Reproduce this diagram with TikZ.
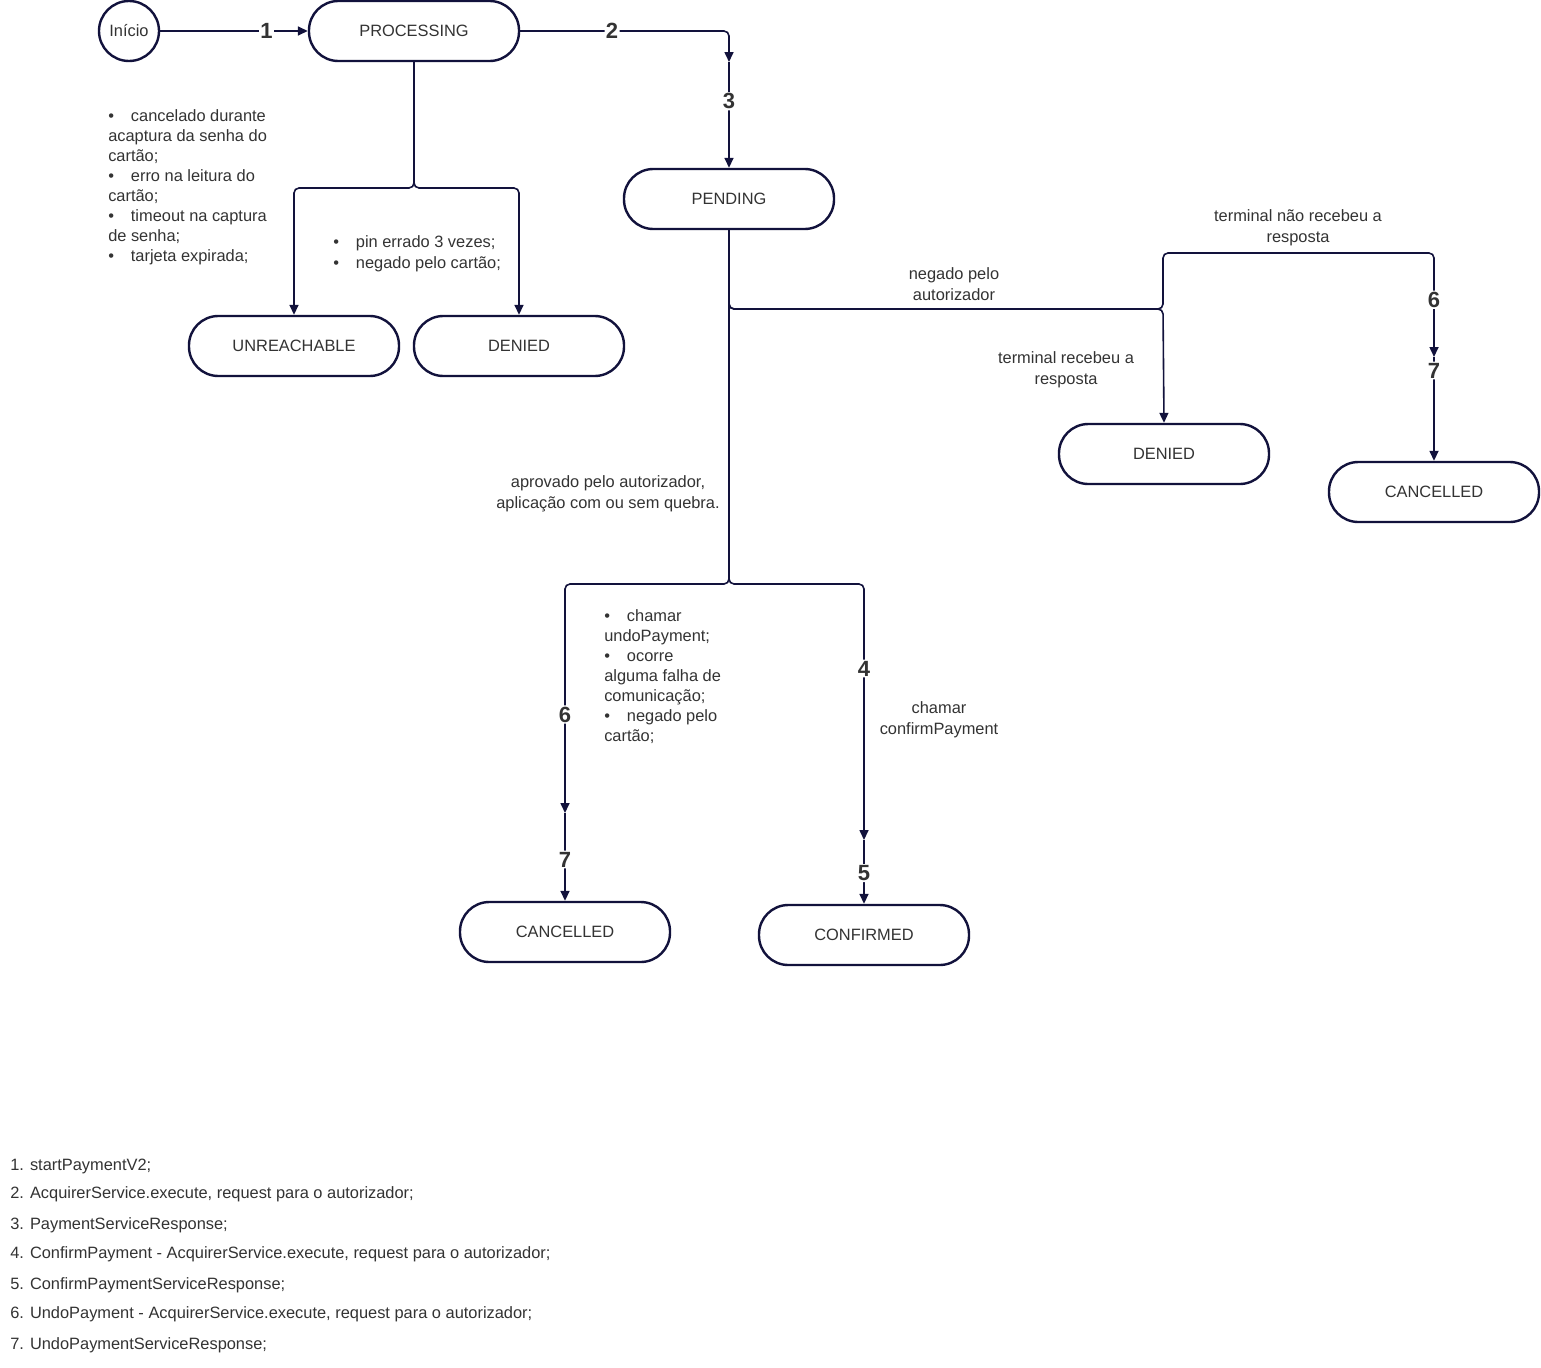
\documentclass[tikz,border=0pt]{standalone}
\usepackage{fontspec}
\setmainfont{Liberation Sans}
\usetikzlibrary{arrows.meta}
\definecolor{ln}{RGB}{18,18,60}
\definecolor{tx}{RGB}{51,51,51}
\newcommand\blt{\makebox[17pt][l]{\textbullet}}
\begin{document}
\begin{tikzpicture}[x=0.75pt,y=-0.75pt,
  state/.style={draw=ln, line width=1.8pt, rectangle, rounded corners=22pt,
    minimum width=157.5pt, minimum height=45pt, text=tx,
    font=\fontsize{12.3}{15}\selectfont, inner sep=0pt},
  conn/.style={draw=ln, line width=1.2pt, rounded corners=3.75pt,
    -{Triangle[length=7.5pt,width=6.75pt]}},
  num/.style={fill=white, text=tx, font=\fontsize{16.5}{18}\selectfont\bfseries, inner sep=1pt},
  lbl/.style={text=tx, font=\fontsize{12.3}{15.75}\selectfont, align=center, inner sep=0pt},
  lst/.style={text=tx, font=\fontsize{12.3}{15}\selectfont, align=left, inner sep=0pt, anchor=west},
  leg/.style={text=tx, font=\fontsize{12.3}{15}\selectfont, inner sep=0pt, anchor=west},
]
\useasboundingbox[fill=white] (0,0) rectangle (1541,1367);

% states
\node[circle, draw=ln, line width=1.8pt, minimum size=45pt, inner sep=0pt, text=tx,
  font=\fontsize{12.3}{15}\selectfont] (ini) at (129,31) {Início};
\node[state] (proc) at (414,31) {PROCESSING};
\node[state] (pend) at (729,199) {PENDING};
\node[state] (unr) at (294,346) {UNREACHABLE};
\node[state] (den1) at (519,346) {DENIED};
\node[state] (den2) at (1164,454) {DENIED};
\node[state] (canr) at (1434,492) {CANCELLED};
\node[state] (canl) at (565,932) {CANCELLED};
\node[state] (conf) at (864,935) {CONFIRMED};

% waypoints
\coordinate (w3) at (729,62);
\coordinate (w7r) at (1434,357);
\coordinate (w7l) at (565,813);
\coordinate (w5) at (864,840);
\coordinate (jp) at (414,188);
\coordinate (jq) at (729,309);
\coordinate (jr) at (1163,309);
\coordinate (jb) at (729,584);

% connectors
\draw[conn] (ini) -- node[num, pos=0.72]{1} (proc);
\draw[conn] (proc.east) -- node[num, pos=0.44]{2} (729,31) -- (w3);
\draw[conn] (w3) -- node[num, pos=0.37]{3} (pend.north);

\draw[conn] (proc.south) -- (jp) -- (294,188) -- (unr.north);
\draw[conn] (proc.south) -- (jp) -- (519,188) -- (den1.north);

\draw[conn] (pend.south) -- (jq) -- (jr) -- (1163,253) -- (1434,253) -- node[num, pos=0.45]{6} (w7r);
\draw[conn] (w7r) -- node[num, pos=0.13]{7} (canr.north);
\draw[conn] (pend.south) -- (jq) -- (jr) -- (den2.north);

\draw[conn] (pend.south) -- (jb) -- (565,584) -- node[num, pos=0.57]{6} (w7l);
\draw[conn] (w7l) -- node[num, pos=0.53]{7} (canl.north);
\draw[conn] (pend.south) -- (jb) -- (864,584) -- node[num, pos=0.33]{4} (w5);
\draw[conn] (w5) -- node[num, pos=0.52]{5} (conf.north);

% labels
\node[lbl] (l1) at (954,284) {negado pelo\\autorizador};
\node[lbl] (l2) at (1066,370) {terminal recebeu a\\resposta};
\node[lbl] (l3) at (1298,227.5) {terminal não recebeu a\\resposta};
\node[lbl] (l4) at (608,493.5) {aprovado pelo autorizador,\\aplicação com ou sem quebra.};
\node[lbl] (l5) at (939,719.5) {chamar\\confirmPayment};

% bullet lists
\node[lst] (b1) at (108,187) {\blt cancelado durante\\acaptura da senha do\\cartão;\\\blt erro na leitura do\\cartão;\\\blt timeout na captura\\de senha;\\\blt tarjeta expirada;};
\node[lst, font=\fontsize{12.3}{15.75}\selectfont] (b2) at (333,253.5) {\blt pin errado 3 vezes;\\\blt negado pelo cartão;};
\node[lst] (b3) at (604,677) {\blt chamar\\undoPayment;\\\blt ocorre\\alguma falha de\\comunicação;\\\blt negado pelo\\cartão;};

% legend
\node[leg] (g1) at (10,1166) {1. startPaymentV2;};
\node[leg] (g2) at (10,1194) {2. AcquirerService.execute, request para o autorizador;};
\node[leg] (g3) at (10,1225) {3. PaymentServiceResponse;};
\node[leg] (g4) at (10,1254) {4. ConfirmPayment - AcquirerService.execute, request para o autorizador;};
\node[leg] (g5) at (10,1285) {5. ConfirmPaymentServiceResponse;};
\node[leg] (g6) at (10,1314) {6. UndoPayment - AcquirerService.execute, request para o autorizador;};
\node[leg] (g7) at (10,1345) {7. UndoPaymentServiceResponse;};
\end{tikzpicture}
\end{document}
